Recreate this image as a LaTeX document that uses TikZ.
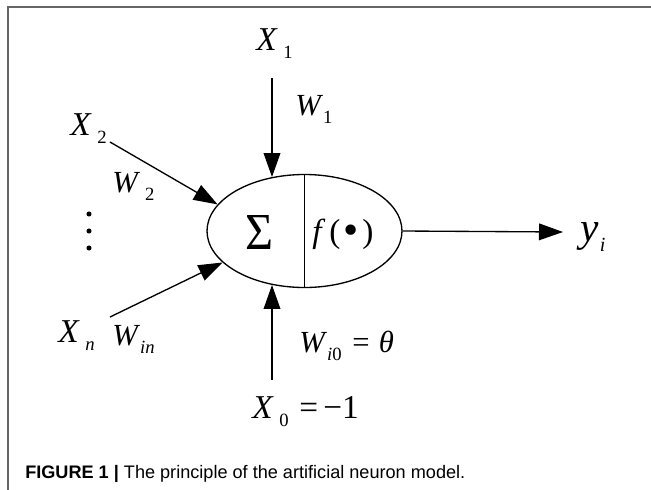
\documentclass[tikz,border=0pt]{standalone}
\usepackage{fontspec}
\usepackage{graphicx}
\setmainfont{Liberation Serif}
\newfontfamily\capfont{Liberation Sans}
\usetikzlibrary{shapes.geometric,arrows.meta}
\newcommand\lsub[1]{\raisebox{-6pt}{\fontsize{14}{14}\selectfont #1}}
\begin{document}
\begin{tikzpicture}[x=0.75pt,y=-0.75pt,
  lbl/.style={anchor=base west,inner sep=0pt,font=\fontsize{25}{25}\selectfont},
  wlbl/.style={anchor=base west,inner sep=0pt,font=\fontsize{23}{23}\selectfont},
  conn/.style={line width=1pt,-{Triangle[length=18pt,width=12.5pt]}},
  dotnode/.style={circle,fill=black,inner sep=0pt,minimum size=3.8pt},
  frameline/.style={draw=black!60,line width=1.1pt}
]
\useasboundingbox (0,0) rectangle (651,490);
% frame
\coordinate (fbl) at (8,490);
\coordinate (ftl) at (8,7);
\coordinate (ftr) at (651,7);
\draw[frameline] (fbl) -- (ftl) -- (ftr);
% neuron
\node[ellipse,draw,line width=1pt,minimum width=146.25pt,minimum height=84.75pt,inner sep=0pt] (neuron) at (304.5,231) {};
\draw[line width=1pt] (neuron.north) -- (neuron.south);
\node[inner sep=0pt] (sigma) at (259,232) {\resizebox{21pt}{25.5pt}{Σ}};
\node[anchor=base west,inner sep=0pt,font=\fontsize{25}{25}\selectfont] (f) at (312,242) {\textit{f}\hspace{3pt}(\hspace{2.5pt}\raisebox{-2pt}{\scalebox{1.3}{•}}\hspace{2.5pt})};
% inputs
\coordinate (s1) at (272,78);
\coordinate (s0) at (272,380);
\coordinate (s2) at (110,142);
\coordinate (sn) at (110,317);
\coordinate (out) at (563,232);
\draw[conn] (s1) -- (s1 |- neuron.121);
\draw[conn] (s0) -- (s0 |- neuron.239);
\draw[conn] (s2) -- (neuron.163);
\draw[conn] (sn) -- (neuron.201);
\draw[conn] (neuron.east) -- (out);
% dots
\node[dotnode] (d1) at (89,214) {};
\node[dotnode] (d2) at (89,231) {};
\node[dotnode] (d3) at (89,248) {};
% labels
\node[lbl] (x1) at (256,50) {\textit{X}\,\lsub{1}};
\node[wlbl] (w1) at (295,115) {\textit{W}\lsub{1}};
\node[lbl] (x2) at (70,135) {\textit{X}\,\lsub{2}};
\node[wlbl] (w2) at (112,192) {\textit{W}\,\lsub{2}};
\node[lbl] (xn) at (58,342) {\textit{X}\,\lsub{\textit{n}}};
\node[wlbl] (win) at (112,345) {\textit{W}\lsub{\textit{in}}};
\node[wlbl] (wi0) at (299,352) {\textit{W}\lsub{\textit{i}0}\hspace{8pt}=\hspace{7pt}\textit{θ}};
\node[lbl] (x0) at (252,418) {\textit{X}\,\lsub{0}\hspace{8pt}=\hspace{4pt}−1};
\node[anchor=base west,inner sep=0pt,font=\fontsize{31}{31}\selectfont] (y) at (580,241) {\textit{y}\hspace{1pt}\raisebox{-8pt}{\fontsize{15}{15}\selectfont\textit{i}}};
% caption
\node[anchor=base west,inner sep=0pt] (cap) at (25,478) {\resizebox{330pt}{\height}{\capfont\fontsize{13.6}{14}\selectfont\textbf{FIGURE 1 |} The principle of the artificial neuron model.}};
\end{tikzpicture}
\end{document}
